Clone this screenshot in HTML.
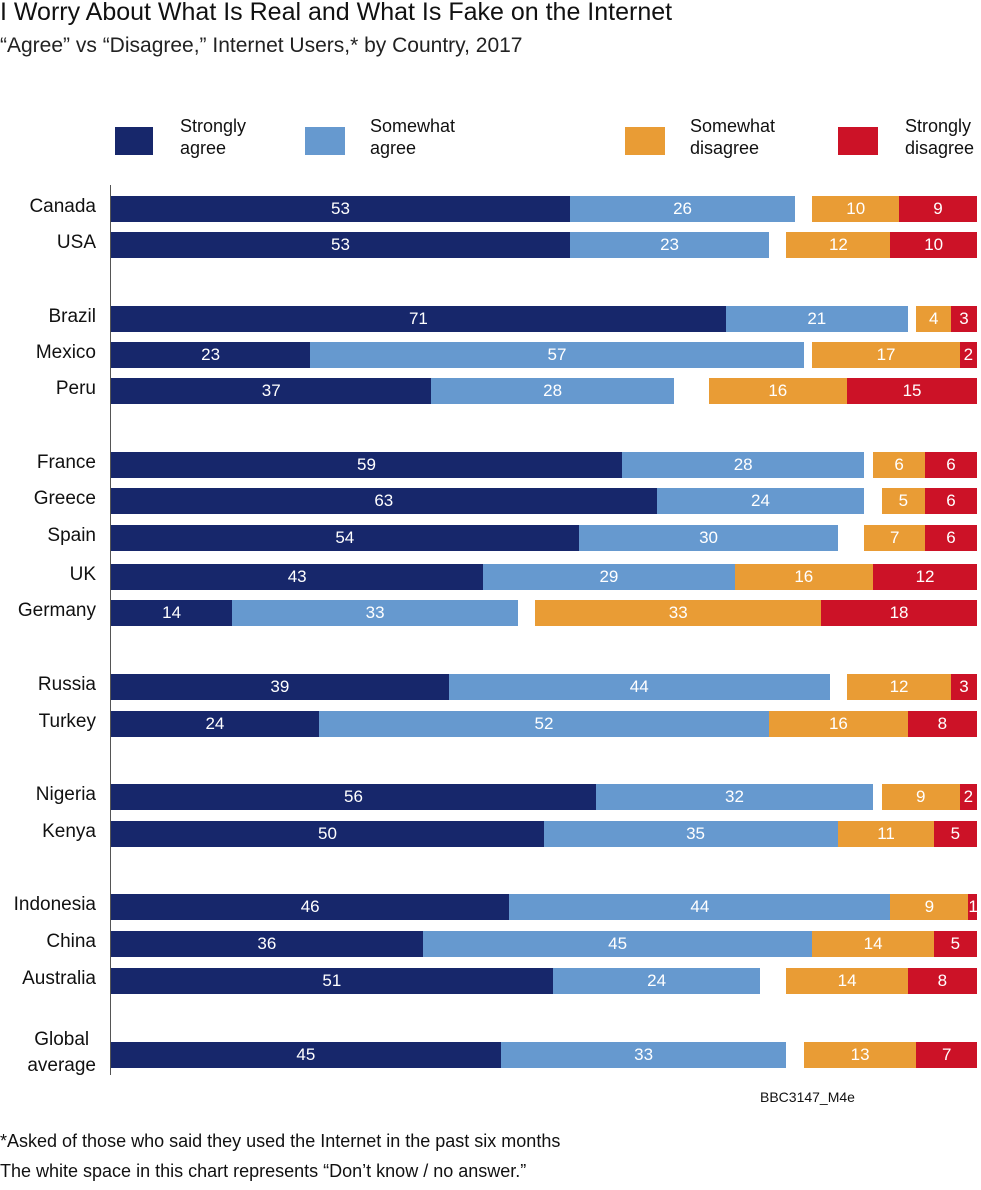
<!DOCTYPE html>
<html><head><meta charset="utf-8">
<style>
body{margin:0;background:#fff;font-family:"Liberation Sans",sans-serif;}
#wrap{position:relative;width:981px;height:1190px;overflow:hidden;}
.t{position:absolute;white-space:nowrap;color:#111;}
</style></head>
<body>
<div id="wrap">
<div class="t" style="left:0;top:-2px;font-size:25px;">I Worry About What Is Real and What Is Fake on the Internet</div>
<div class="t" style="left:0;top:34px;font-size:21px;color:#222;">“Agree” vs “Disagree,” Internet Users,* by Country, 2017</div>
<div>
<div style="position:absolute;left:115px;top:127px;width:38px;height:28px;background:#17276b"></div>
<div class="t" style="left:180px;top:115px;font-size:18px;line-height:22px">Strongly<br>agree</div>
<div style="position:absolute;left:305px;top:127px;width:40px;height:28px;background:#6699cf"></div>
<div class="t" style="left:370px;top:115px;font-size:18px;line-height:22px">Somewhat<br>agree</div>
<div style="position:absolute;left:625px;top:127px;width:40px;height:28px;background:#e99c35"></div>
<div class="t" style="left:690px;top:115px;font-size:18px;line-height:22px">Somewhat<br>disagree</div>
<div style="position:absolute;left:838px;top:127px;width:40px;height:28px;background:#cc1227"></div>
<div class="t" style="left:905px;top:115px;font-size:18px;line-height:22px">Strongly<br>disagree</div>
</div>
<div style="position:absolute;left:110px;top:185px;width:1px;height:890px;background:#555"></div>
<div id="bars"></div>
<div class="t" style="left:760px;top:1089px;font-size:14px;">BBC3147_M4e</div>
<div class="t" style="left:0;top:1131px;font-size:18px;">*Asked of those who said they used the Internet in the past six months</div>
<div class="t" style="left:0;top:1161px;font-size:18px;">The white space in this chart represents “Don’t know / no answer.”</div>
</div>
<script>
const countries=["Canada","USA","Brazil","Mexico","Peru","France","Greece","Spain","UK","Germany","Russia","Turkey","Nigeria","Kenya","Indonesia","China","Australia","Global average"];
const stronglyAgree=[53,53,71,23,37,59,63,54,43,14,39,24,56,50,46,36,51,45];
const somewhatAgree=[26,23,21,57,28,28,24,30,29,33,44,52,32,35,44,45,24,33];
const somewhatDisagree=[10,12,4,17,16,6,5,7,16,33,12,16,9,11,9,14,14,13];
const stronglyDisagree=[9,10,3,2,15,6,6,6,12,18,3,8,2,5,1,5,8,7];
const rowY=[209,245,319,355,391,465,501,538,577,613,687,724,797,834,907,944,981,1055];
const X0=111,X1=977,BH=26;
const x=v=>X0+(X1-X0)*v/100;
const w=v=>(X1-X0)*v/100;
const host=document.getElementById('bars');
function seg(left,val,color,name){
  const d=document.createElement('div');
  
  
  d.style.cssText=`position:absolute;left:${left}px;width:${w(val)}px;height:${BH}px;background:${color};color:#fff;font-size:17px;line-height:${BH}px;text-align:center;`;
  d.textContent=val;
  return d;
}
countries.forEach((c,i)=>{
  const cy=rowY[i],top=cy-BH/2;
  const lab=document.createElement('div');
  
  
  if(c==="Global average"){
    lab.style.cssText=`position:absolute;right:${981-96}px;top:${cy-28}px;font-size:19px;line-height:26px;text-align:center;color:#111;white-space:nowrap;`;
    lab.innerHTML="Global<br>average";
  } else {
    lab.style.cssText=`position:absolute;right:${981-96}px;top:${cy-15}px;font-size:19px;line-height:26px;text-align:right;color:#111;white-space:nowrap;`;
    lab.textContent=c;
  }
  host.appendChild(lab);
  const row=document.createElement('div');
  
  
  row.style.cssText=`position:absolute;left:0;top:${top}px;width:981px;height:${BH}px;`;
  row.appendChild(seg(x(0),stronglyAgree[i],'#17276b','bar-strongly-agree'));
  row.appendChild(seg(x(stronglyAgree[i]),somewhatAgree[i],'#6699cf','bar-somewhat-agree'));
  row.appendChild(seg(X1-w(stronglyDisagree[i]+somewhatDisagree[i]),somewhatDisagree[i],'#e99c35','bar-somewhat-disagree'));
  row.appendChild(seg(X1-w(stronglyDisagree[i]),stronglyDisagree[i],'#cc1227','bar-strongly-disagree'));
  host.appendChild(row);
});
</script>
</body></html>
